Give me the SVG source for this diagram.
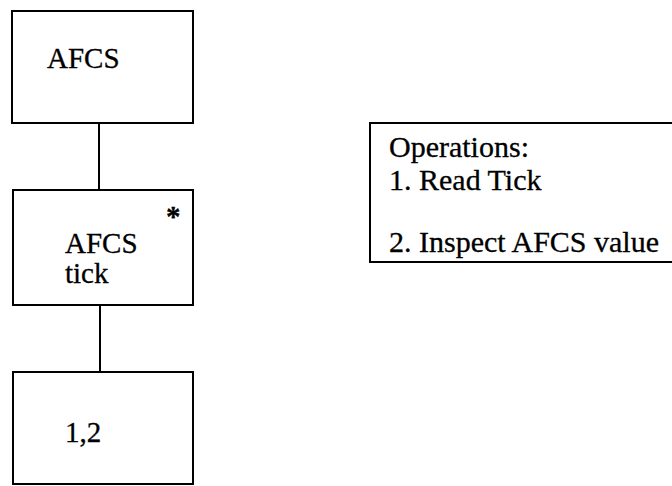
<svg xmlns="http://www.w3.org/2000/svg" width="672" height="486" viewBox="0 0 672 486">
<style>
.box{fill:#fff;stroke:#000;stroke-width:2}
.t{font-family:"Liberation Serif","Times New Roman",serif;font-size:29px;fill:#000;stroke:#000;stroke-width:0.3}
.o{font-size:30px}
.c{stroke:#000;stroke-width:2;fill:none}
</style>
<rect width="672" height="486" fill="#fff"/>
<g id="connectors">
<line class="c" x1="99" y1="123" x2="99" y2="190"/>
<line class="c" x1="100" y1="305" x2="100" y2="372"/>
</g>
<g id="node-afcs">
<rect class="box" x="12" y="11" width="181" height="112"/>
<text class="t" x="47" y="68">AFCS</text>
</g>
<g id="node-afcs-tick">
<rect class="box" x="13" y="190" width="180" height="115"/>
<text class="t" x="166" y="226" font-weight="bold">*</text>
<text class="t" x="65" y="253">AFCS</text>
<text class="t" x="65" y="283">tick</text>
</g>
<g id="node-12">
<rect class="box" x="13" y="372" width="180" height="112"/>
<text class="t" x="65" y="442">1,2</text>
</g>
<g id="operations">
<rect class="box" x="370" y="123" width="320" height="139"/>
<text class="t o" x="389" y="157">Operations:</text>
<text class="t o" x="389" y="190">1. Read Tick</text>
<text class="t o" x="389" y="252">2. Inspect AFCS value</text>
</g>
</svg>
